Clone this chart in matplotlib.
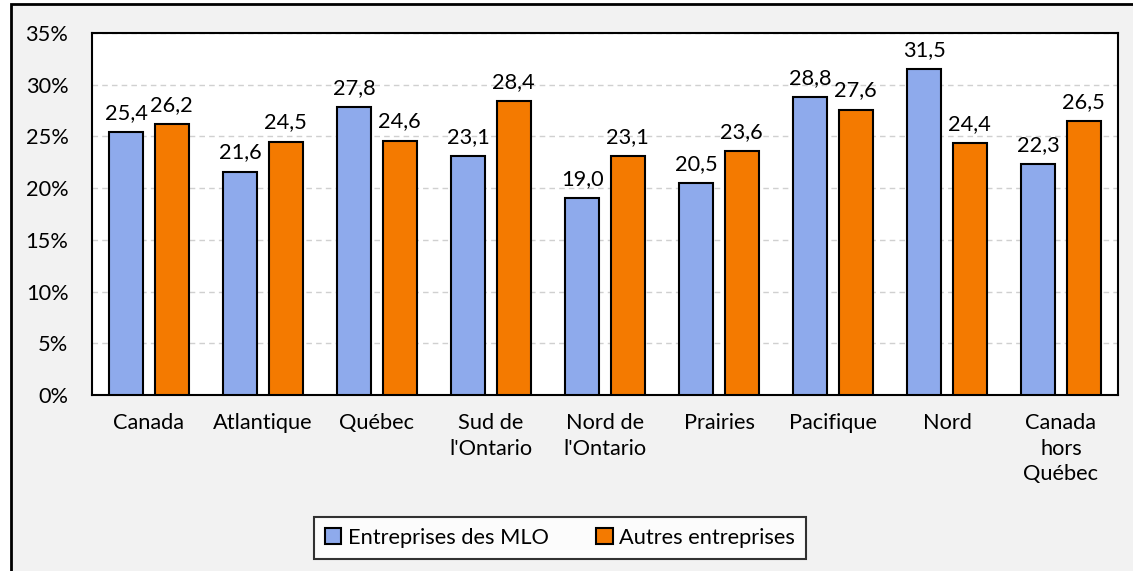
import matplotlib
matplotlib.use("Agg")
import matplotlib.pyplot as plt
from matplotlib.patches import Rectangle
import numpy as np

regions = ["Canada", "Atlantique", "Québec", "Sud de\nl'Ontario", "Nord de\nl'Ontario",
           "Prairies", "Pacifique", "Nord", "Canada\nhors\nQuébec"]
mlo = [25.4, 21.6, 27.8, 23.1, 19.0, 20.5, 28.8, 31.5, 22.3]
autres = [26.2, 24.5, 24.6, 28.4, 23.1, 23.6, 27.6, 24.4, 26.5]
series_names = ["Entreprises des MLO", "Autres entreprises"]
yticks = [0, 5, 10, 15, 20, 25, 30, 35]

blue = "#8EAAEC"
orange = "#F47A00"
fs = 15.7

plt.rcParams["font.family"] = ["Lato", "DejaVu Sans"]
W, H = 1133, 571
fig = plt.figure(figsize=(W / 100, H / 100), dpi=100)
fig.patch.set_facecolor("white")

# grey chart area with black left/top border
bg = Rectangle((11 / W, -0.1), 1.2, (H - 4) / H + 0.1, transform=fig.transFigure,
               facecolor="#F2F2F2", edgecolor="black", linewidth=2, zorder=-10)
fig.patches.append(bg)

ax = fig.add_axes([92 / W, 1 - 395 / H, (1118 - 92) / W, (395 - 33) / H])
ax.set_facecolor("white")

x = np.arange(len(regions))
bw = 0.3
off = 0.2
b1 = ax.bar(x - off, mlo, bw, color=blue, edgecolor="black", linewidth=1.5,
            label=series_names[0], zorder=3)
b2 = ax.bar(x + off, autres, bw, color=orange, edgecolor="black", linewidth=1.5,
            label=series_names[1], zorder=3)

for bars, vals in [(b1, mlo), (b2, autres)]:
    for rect, v in zip(bars, vals):
        ax.annotate(f"{v:.1f}".replace(".", ","),
                    (rect.get_x() + rect.get_width() / 2, v),
                    xytext=(0, 6.5), textcoords="offset points",
                    ha="center", va="bottom", fontsize=fs)

ax.set_xlim(-0.5, len(regions) - 0.5)
ax.set_ylim(0, 35)
ax.set_yticks(yticks)
ax.set_yticklabels([f"{t}%" for t in yticks], fontsize=fs)
ax.set_xticks(x)
ax.set_xticklabels(regions, fontsize=fs, linespacing=1.35, va="top")
ax.tick_params(axis="both", length=0)
ax.tick_params(axis="x", pad=13)
ax.tick_params(axis="y", pad=17)
ax.grid(axis="y", color="#D0D0D0", linestyle=(0, (4, 3)), linewidth=1, zorder=0)
for s in ax.spines.values():
    s.set_linewidth(1.5)
    s.set_color("black")

leg = fig.legend(handles=[b1, b2], loc="center",
                 bbox_to_anchor=(560 / W, 1 - 538 / H), ncol=2, fontsize=fs,
                 frameon=True, fancybox=False, edgecolor="black",
                 handlelength=0.75, handleheight=0.75, handletextpad=0.3,
                 columnspacing=2.2, borderpad=0.5, borderaxespad=0)
leg.get_frame().set_linewidth(1.5)

fig.savefig("out.png", dpi=100, facecolor=fig.get_facecolor())
